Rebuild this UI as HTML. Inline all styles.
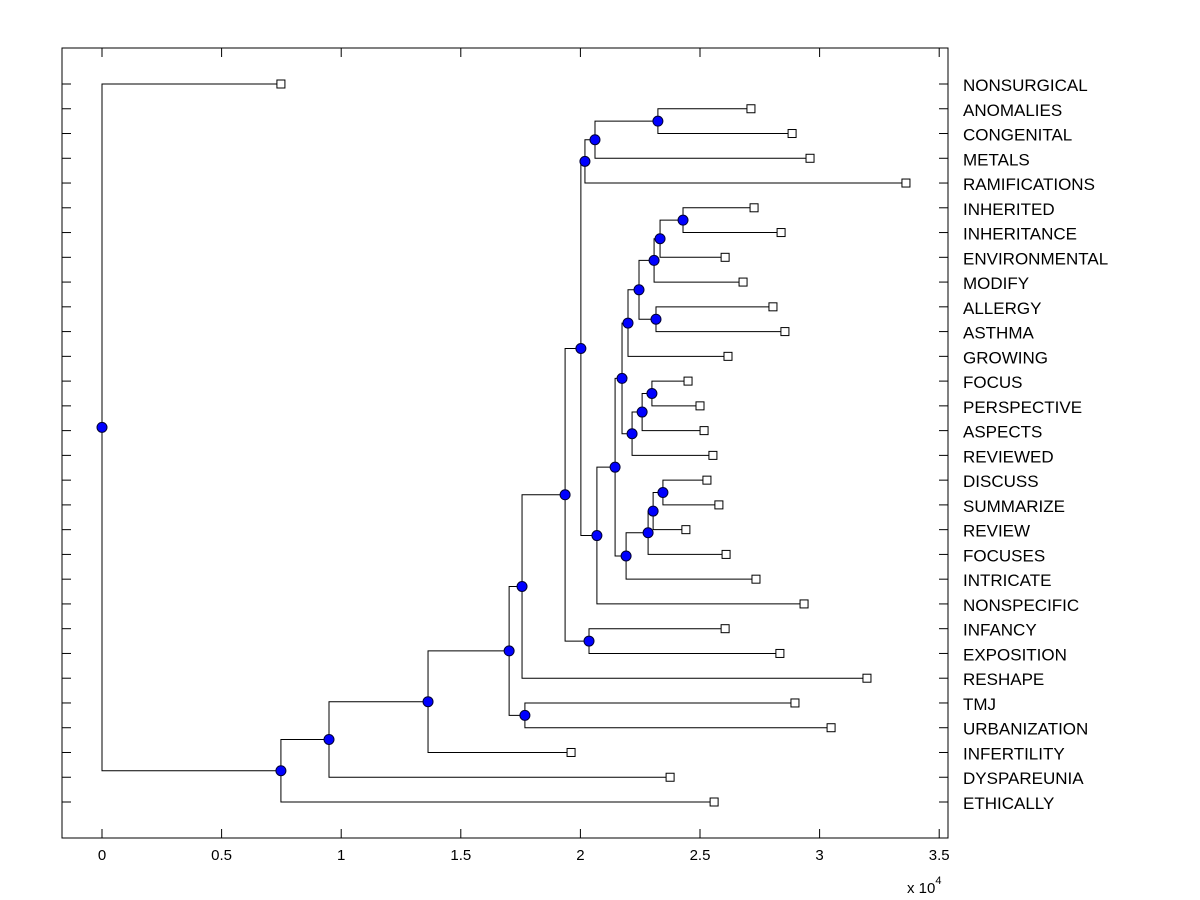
<!DOCTYPE html>
<html><head><meta charset="utf-8"><style>
html,body{margin:0;padding:0;background:#fff;}
svg{display:block;font-family:"Liberation Sans",Arial,sans-serif;}
</style></head>
<body>
<svg id="chart" width="1200" height="900" viewBox="0 0 1200 900">
<rect x="0" y="0" width="1200" height="900" fill="#fff"/>
<g id="marks"></g>
<rect x="62" y="48" width="886" height="790" fill="none" stroke="#000" stroke-width="1"/>
<g id="axes"></g>
<text x="907" y="893" font-size="15">x 10<tspan font-size="11" dy="-9">4</tspan></text>
</svg>
<script>
const leafLabels = ["NONSURGICAL","ANOMALIES","CONGENITAL","METALS","RAMIFICATIONS","INHERITED","INHERITANCE","ENVIRONMENTAL","MODIFY","ALLERGY","ASTHMA","GROWING","FOCUS","PERSPECTIVE","ASPECTS","REVIEWED","DISCUSS","SUMMARIZE","REVIEW","FOCUSES","INTRICATE","NONSPECIFIC","INFANCY","EXPOSITION","RESHAPE","TMJ","URBANIZATION","INFERTILITY","DYSPAREUNIA","ETHICALLY"];
const leafValues = [0.748,2.713,2.885,2.960,3.361,2.726,2.839,2.605,2.680,2.805,2.855,2.617,2.450,2.500,2.517,2.554,2.529,2.579,2.441,2.609,2.734,2.935,2.605,2.834,3.198,2.897,3.048,1.961,2.375,2.559];
const nodeChildA = ["L5","n0","n1","L9","n2","n4","L12","n6","n7","n5","L16","n10","n11","n12","n9","n14","L1","n16","n17","n18","L22","n19","n21","L25","n22","n24","n25","n26","L0"];
const nodeChildB = ["L6","L7","L8","L10","n3","L11","L13","L14","L15","n8","L17","L18","L19","L20","n13","L21","L2","L3","L4","n15","L23","n20","L24","L26","n23","L27","L28","L29","n27"];
const nodeValues = [2.429,2.333,2.308,2.316,2.245,2.199,2.299,2.258,2.216,2.174,2.345,2.304,2.283,2.191,2.145,2.069,2.324,2.061,2.019,2.002,2.036,1.936,1.756,1.768,1.702,1.363,0.949,0.748,0];
const xTicks = [0,0.5,1,1.5,2,2.5,3,3.5];
const xTickLabels = ["0","0.5","1","1.5","2","2.5","3","3.5"];

const NS="http://www.w3.org/2000/svg";
function xPx(v){return 102+v*239.2;}
function rowPx(i){return 84+i*(718/29);}
const marks=document.getElementById('marks');
const axes=document.getElementById('axes');
function mk(tag,attrs,parent){const e=document.createElementNS(NS,tag);for(const k in attrs)e.setAttribute(k,attrs[k]);parent.appendChild(e);return e;}

const nodeY=[];
function ref(r){const i=+r.slice(1);if(r[0]==='L')return {x:xPx(leafValues[i]),y:rowPx(i)};return {x:xPx(nodeValues[i]),y:nodeY[i]};}
const circles=[];
for(let i=0;i<nodeValues.length;i++){
  const a=ref(nodeChildA[i]),b=ref(nodeChildB[i]);
  const x=xPx(nodeValues[i]);
  nodeY[i]=(a.y+b.y)/2;
  const p=mk('path',{d:`M${a.x},${a.y}H${x}V${b.y}H${b.x}`,fill:'none',stroke:'#000','stroke-width':1},marks);
  
  
  circles.push([x,nodeY[i],i]);
}
for(const [x,y,i] of circles){
  const c=mk('circle',{cx:x,cy:y,r:5,fill:'#0000ff',stroke:'#000033','stroke-width':1},marks);
  
  
}
for(let i=0;i<leafLabels.length;i++){
  const y=rowPx(i),x=xPx(leafValues[i]);
  const s=mk('rect',{x:x-4,y:y-4,width:8,height:8,fill:'#fff',stroke:'#000','stroke-width':1},marks);
  
  
  const tl=mk('line',{x1:62,y1:y,x2:71,y2:y,stroke:'#000'},axes);
  
  
  const tr=mk('line',{x1:939,y1:y,x2:948,y2:y,stroke:'#000'},axes);
  
  
  const t=mk('text',{x:963,y:y+7,'font-size':17},axes);
  t.textContent=leafLabels[i];
  
  
}
for(let i=0;i<xTicks.length;i++){
  const x=xPx(xTicks[i]);
  const a=mk('line',{x1:x,y1:838,x2:x,y2:829,stroke:'#000'},axes);
  
  
  const b=mk('line',{x1:x,y1:48,x2:x,y2:57,stroke:'#000'},axes);
  
  
  const t=mk('text',{x:x,y:860,'font-size':15,'text-anchor':'middle'},axes);
  t.textContent=xTickLabels[i];
  
  
}
</script>
</body></html>
